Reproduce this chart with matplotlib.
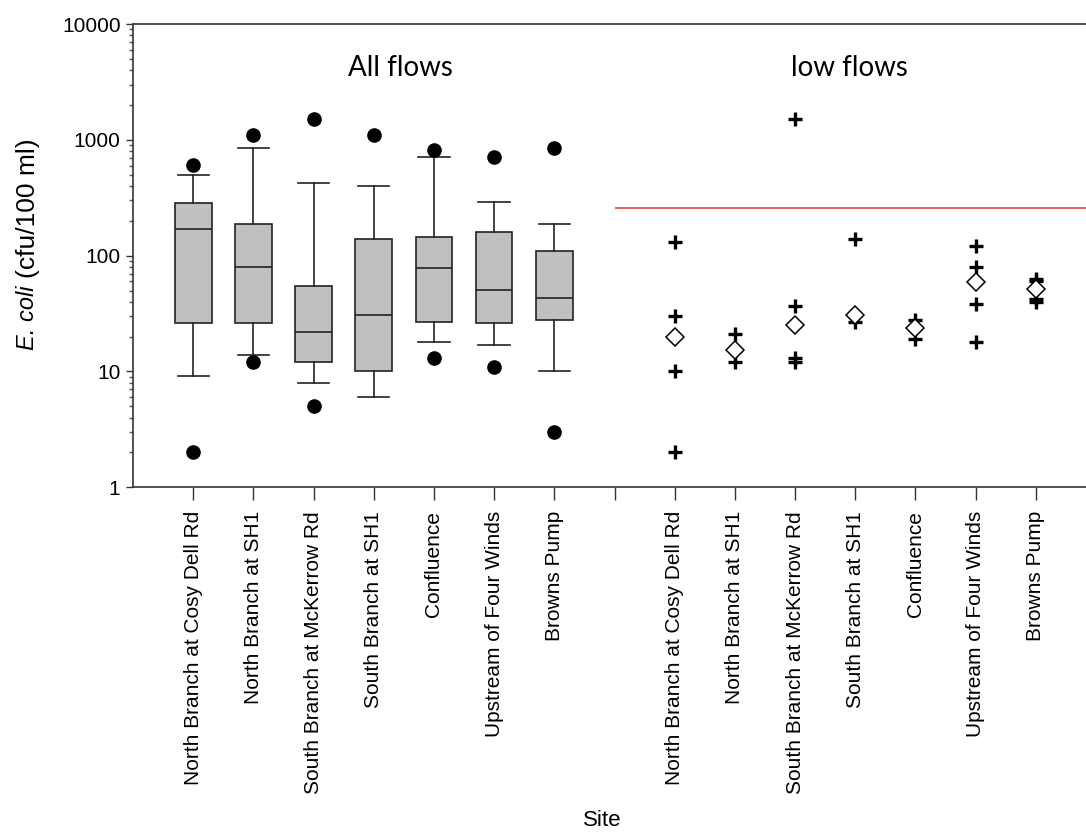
import numpy as np
import matplotlib
matplotlib.use("Agg")
import matplotlib.pyplot as plt
from matplotlib.ticker import LogLocator, NullFormatter, FixedLocator

plt.rcParams['font.family'] = ['Liberation Sans', 'DejaVu Sans']

sites = ['North Branch at Cosy Dell Rd', 'North Branch at SH1',
         'South Branch at McKerrow Rd', 'South Branch at SH1',
         'Confluence', 'Upstream of Four Winds', 'Browns Pump']

# all flows box stats
whis_lo = [9.1, 14, 8, 6, 18, 17, 10]
q1 = [26, 26, 12, 10, 27, 26, 28]
med = [170, 80, 22, 31, 79, 51, 43]
q3 = [285, 189, 55, 139, 144, 159, 109]
whis_hi = [495, 850, 420, 400, 710, 290, 189]
fliers = [[607, 2], [1110, 12], [1510, 5], [1110], [810, 13], [708, 11], [857, 3]]

# low flows samples and medians
low_pts = [[130, 30, 10, 2], [21, 15, 12], [1500, 37, 13, 12], [140, 31, 27],
           [28, 24, 19], [120, 80, 38, 18], [63, 60, 42, 40]]
low_med = [20, 15.3, 25, 30.7, 23.6, 59.6, 51.5]

guideline = 260

pos_all = np.arange(1, 8)
pos_low = np.arange(9, 16)

fig = plt.figure(figsize=(10.86, 8.4), dpi=100)
ax = fig.add_axes([133/1086, 1 - 487.3/840, (1096 - 133)/1086, (487.3 - 24)/840])

stats = []
for i in range(7):
    stats.append(dict(med=med[i], q1=q1[i], q3=q3[i], whislo=whis_lo[i],
                      whishi=whis_hi[i], fliers=fliers[i]))
ax.bxp(stats, positions=pos_all, widths=0.61, capwidths=0.52, patch_artist=True,
       showfliers=True,
       boxprops=dict(facecolor='#c0c0c0', edgecolor='#222222', linewidth=1.2),
       medianprops=dict(color='#222222', linewidth=1.2),
       whiskerprops=dict(color='#222222', linewidth=1.2),
       capprops=dict(color='#222222', linewidth=1.2),
       flierprops=dict(marker='o', markerfacecolor='black', markeredgecolor='black',
                       markersize=9.5, linestyle='none'))

for p, pts in zip(pos_low, low_pts):
    ax.plot([p] * len(pts), pts, linestyle='none', marker='+', color='black',
            markersize=10, markeredgewidth=2.4)
ax.plot(pos_low, low_med, linestyle='none', marker='D', markerfacecolor='white',
        markeredgecolor='black', markersize=9, markeredgewidth=1.1)

ax.hlines(guideline, 8, 16, color='#dc5050', linewidth=1.3)

ax.set_yscale('log')
ax.set_ylim(1, 10000)
ax.set_xlim(0, 16)
ax.yaxis.set_major_locator(FixedLocator([1, 10, 100, 1000, 10000]))
ax.set_yticklabels(['1', '10', '100', '1000', '10000'])
ax.yaxis.set_minor_locator(LogLocator(base=10, subs=np.arange(2, 10)))
ax.yaxis.set_minor_formatter(NullFormatter())

ticks = list(pos_all) + [8] + list(pos_low)
labels = sites + [''] + sites
ax.set_xticks(ticks)
ax.set_xticklabels(labels, rotation=90, va='top', ha='center')

ax.tick_params(axis='both', which='major', labelsize=15, direction='out', color='#333333')
ax.tick_params(axis='y', which='major', length=5, width=1, pad=4)
ax.tick_params(axis='y', which='minor', length=3, width=1, color='#555555')
ax.tick_params(axis='x', which='major', length=9, width=1, pad=8)
ax.tick_params(axis='x', which='minor', bottom=False)

for s in ['top', 'left', 'bottom']:
    ax.spines[s].set_color('#333333')
    ax.spines[s].set_linewidth(1.2)
ax.spines['right'].set_visible(False)

ax.text(4.45, 4200, 'All flows', fontsize=20, family=['Lato', 'DejaVu Sans'],
        ha='center', va='center')
ax.text(11.9, 4200, 'low flows', fontsize=20, family=['Lato', 'DejaVu Sans'],
        ha='center', va='center')

# y label: italic species name then units, reading bottom to top
fig.text(28/1086, 1 - 350/840, 'E. coli', fontsize=17, style='italic', rotation=90,
         ha='center', va='bottom')
fig.text(28/1086, 1 - 278/840, '(cfu/100 ml)', fontsize=19, rotation=90,
         ha='center', va='bottom')

fig.text(602/1086, 1 - 820/840, 'Site', fontsize=16, ha='center', va='center')

fig.savefig('out.png', dpi=100)
